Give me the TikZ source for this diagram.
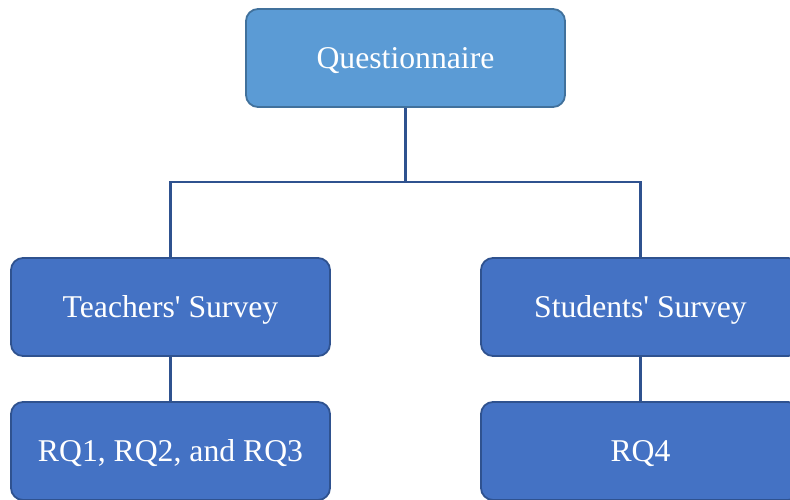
\documentclass[tikz,border=0pt]{standalone}
\usepackage{fontspec}
\setmainfont{Liberation Serif}
\definecolor{topfill}{HTML}{5B9BD5}
\definecolor{topdraw}{HTML}{41719C}
\definecolor{boxfill}{HTML}{4472C4}
\definecolor{boxdraw}{HTML}{2F528F}
\tikzset{
  orgbox/.style={rectangle, rounded corners=12pt, minimum width=319pt, minimum height=98pt,
    inner sep=0pt, line width=1.8pt, fill=boxfill, draw=boxdraw, text=white,
    font=\fontsize{31.7pt}{36pt}\selectfont, text height=21pt, text depth=0pt},
  topbox/.style={orgbox, fill=topfill, draw=topdraw},
  link/.style={draw=boxdraw, line width=2.4pt}
}
\begin{document}
\begin{tikzpicture}[x=1pt,y=-1pt]
\useasboundingbox (0,0) rectangle (790,499);
\clip (0,0) rectangle (790,499);
\node[topbox] (q) at (405.5,58) {Questionnaire};
\node[orgbox] (t) at (170.5,307) {Teachers\textquotesingle{} Survey};
\node[orgbox] (s) at (640.5,307) {Students\textquotesingle{} Survey};
\node[orgbox] (r1) at (170.5,451) {RQ1, RQ2, and RQ3};
\node[orgbox] (r4) at (640.5,451) {RQ4};
\coordinate (j) at (405.5,182);
\draw[link] (q.south) -- (j);
\draw[link] (t.north) |- (j) -| (s.north);
\draw[link] (t.south) -- (r1.north);
\draw[link] (s.south) -- (r4.north);
\end{tikzpicture}
\end{document}
